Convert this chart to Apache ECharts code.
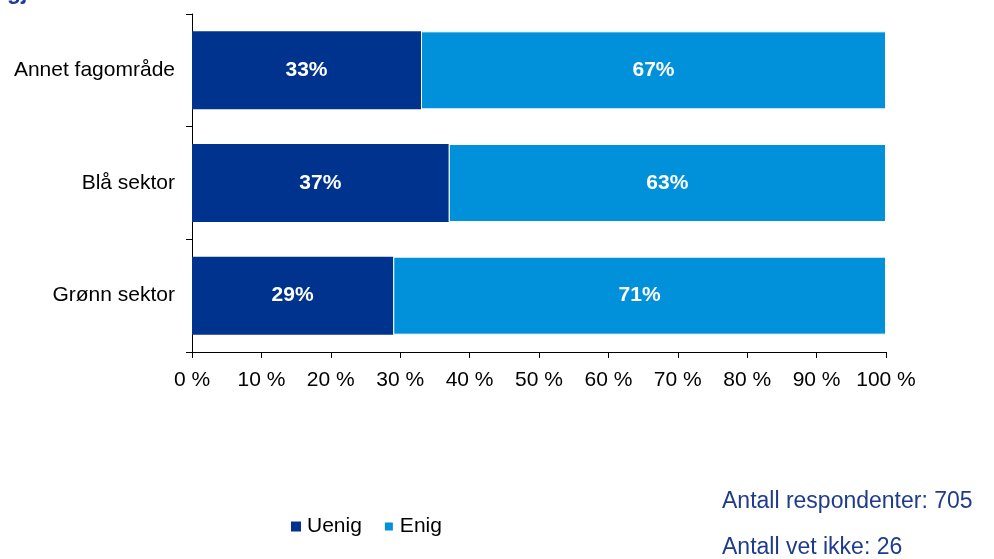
<!DOCTYPE html>
<html>
<head>
<meta charset="utf-8">
<script src="https://cdn.jsdelivr.net/npm/echarts@6/dist/echarts.min.js"></script>
<style>
  html, body { margin: 0; padding: 0; background: #fff; }
  #chart { width: 994px; height: 559px; }
</style>
</head>
<body>
<div id="chart"></div>
<script>
// Sektorer (nederst til øverst i diagrammet)
const categories = ['Grønn sektor', 'Blå sektor', 'Annet fagområde'];
const uenig = [29, 37, 33];
const enig = [71, 63, 67];
const xTicks = [0, 10, 20, 30, 40, 50, 60, 70, 80, 90, 100];
const noteLines = ['Antall respondenter: 705', 'Antall vet ikke: 26'];

const FONT = 'Arial, "Liberation Sans", Helvetica, sans-serif';
const chart = echarts.init(document.getElementById('chart'), null, { renderer: 'canvas' });

const labelStyle = {
  show: true,
  position: 'inside',
  color: '#fff',
  fontWeight: 'bold',
  fontSize: 21,
  fontFamily: FONT,
  padding: [3, 0, 0, 0],
  formatter: p => p.value + '%'
};

chart.setOption({
  animation: false,
  textStyle: { fontFamily: FONT },
  grid: { left: 192, right: 108, top: 14, bottom: 207 },
  legend: {
    data: ['Uenig', 'Enig'],
    left: 286,
    top: 511,
    icon: 'rect',
    itemWidth: 10,
    itemHeight: 10,
    itemGap: 21,
    textStyle: { fontSize: 21, color: '#000', fontFamily: FONT, padding: [0, 0, 0, 1] }
  },
  xAxis: {
    type: 'value',
    min: 0,
    max: 100,
    interval: 10,
    axisLine: { show: true, lineStyle: { color: '#000', width: 1 } },
    axisTick: { show: true, length: 6, lineStyle: { color: '#000' } },
    splitLine: { show: false },
    axisLabel: {
      color: '#000',
      fontSize: 21,
      fontFamily: FONT,
      margin: 18,
      formatter: v => (xTicks.includes(v) ? v + ' %' : '')
    }
  },
  yAxis: {
    type: 'category',
    data: categories,
    axisLine: { show: true, lineStyle: { color: '#000', width: 1 } },
    axisTick: { show: true, length: 6, lineStyle: { color: '#000' } },
    axisLabel: { color: '#000', fontSize: 21, fontFamily: FONT, margin: 17, padding: [3, 0, 0, 0] }
  },
  series: [
    {
      name: 'Uenig',
      type: 'bar',
      stack: 'total',
      barWidth: 78,
      data: uenig,
      itemStyle: { color: '#00338d' },
      label: labelStyle
    },
    {
      name: 'Enig',
      type: 'bar',
      stack: 'total',
      barWidth: 78,
      data: enig,
      itemStyle: { color: '#0091da', borderColor: '#ffffff', borderWidth: 1 },
      label: labelStyle
    }
  ],
  graphic: [
    {
      type: 'text',
      left: 7,
      top: -19,
      style: { text: 'gjort', fill: '#1f3c9e', font: 'bold 23px ' + FONT }
    },
    {
      type: 'text',
      left: 722,
      top: 490,
      style: { text: noteLines[0], fill: '#1f3c8c', font: '23px ' + FONT }
    },
    {
      type: 'text',
      left: 722,
      top: 536,
      style: { text: noteLines[1], fill: '#1f3c8c', font: '23px ' + FONT }
    }
  ]
});
</script>
</body>
</html>
